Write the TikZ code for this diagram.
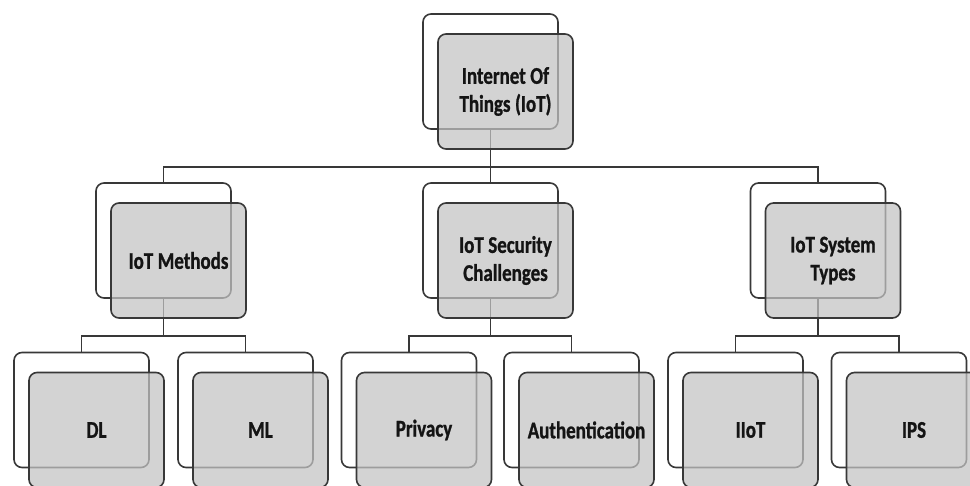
\documentclass[tikz,border=0pt]{standalone}
\usepackage{fontspec}
\newfontfamily\boxfont{Carlito}[FakeStretch=0.79, FakeBold=1]
\usepackage{tikz}
\usetikzlibrary{positioning,calc}
\definecolor{myLine}{rgb}{0.22,0.22,0.22}
\definecolor{myFill}{rgb}{0.765,0.765,0.765}
\definecolor{myText}{rgb}{0.08,0.08,0.08}
\newcommand\boxtext{\boxfont\bfseries\fontsize{24}{28}\selectfont\fontdimen2\font=4.5pt\relax}

\begin{document}
\begin{tikzpicture}[x=1pt,y=1pt]
\tikzstyle{back}=[draw=myLine, line width=1.6pt, fill=white, rounded corners=8pt, minimum width=135pt, minimum height=115pt, inner sep=0pt]
\tikzstyle{front}=[back, fill=myFill, fill opacity=0.73, text opacity=1, text=myText, font=\boxtext, align=flush center, text width=125pt]
\tikzstyle{conn}=[draw=myLine, line width=1.6pt]
\useasboundingbox (0,0) rectangle (970,486);
\clip (0,0) rectangle (970,486);
% back boxes
\node[back] (iotB) at (490.5,414.5) {};
\node[back] (methB) at (163.5,245.5) {};
\node[back] (secB) at (490.5,245.5) {};
\node[back] (sysB) at (818,245.5) {};
\node[back] (dlB) at (81.5,76) {};
\node[back] (mlB) at (245.5,76) {};
\node[back] (privB) at (409,76) {};
\node[back] (authB) at (571.5,76) {};
\node[back] (iiotB) at (735.5,76) {};
\node[back] (ipsB) at (899,76) {};
% tree lines
\draw[conn] (iotB.south) -- ++(0,-37) coordinate (bus0);
\draw[conn] (methB.north) |- (bus0) -| (sysB.north);
\draw[conn] (secB.north) -- (bus0);
\draw[conn] (methB.south) -- ++(0,-37) coordinate (bus1);
\draw[conn] (dlB.north) |- (bus1) -| (mlB.north);
\draw[conn] (secB.south) -- ++(0,-37) coordinate (bus2);
\draw[conn] (privB.north) |- (bus2) -| (authB.north);
\draw[conn] (sysB.south) -- ++(0,-37) coordinate (bus3);
\draw[conn] (iiotB.north) |- (bus3) -| (ipsB.north);
% front boxes
\node[front] (iot) at ($(iotB)+(15,-20)$) {Internet Of\\Things (IoT)};
\node[front] (meth) at ($(methB)+(15,-20)$) {IoT Methods};
\node[front] (sec) at ($(secB)+(15,-20)$) {IoT Security\\Challenges};
\node[front] (sys) at ($(sysB)+(15,-20)$) {IoT System\\Types};
\node[front] (dl) at ($(dlB)+(15,-20)$) {DL};
\node[front] (ml) at ($(mlB)+(15,-20)$) {ML};
\node[front] (priv) at ($(privB)+(15,-20)$) {Privacy};
\node[front] (auth) at ($(authB)+(15,-20)$) {Authentication};
\node[front] (iiot) at ($(iiotB)+(15,-20)$) {IIoT};
\node[front] (ips) at ($(ipsB)+(15,-20)$) {IPS};
\end{tikzpicture}
\end{document}
